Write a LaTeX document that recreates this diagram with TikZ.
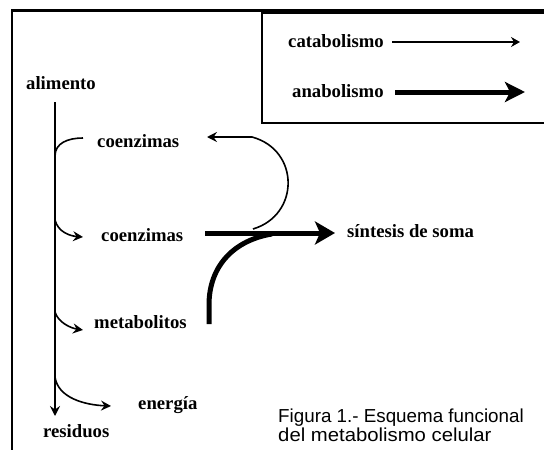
\documentclass[tikz,border=0pt]{standalone}
\usepackage{fontspec}
\setmainfont{Liberation Serif}
\newfontfamily\capfont{Liberation Sans}
\usetikzlibrary{arrows.meta}
\begin{document}
\begin{tikzpicture}[x=1pt,y=-1pt,
  lbl/.style={font=\bfseries\fontsize{18.7}{20}\selectfont, inner sep=0pt, anchor=base west},
  captext/.style={font=\capfont\fontsize{18.8}{20}\selectfont, inner sep=0pt, anchor=base west},
  thinarr/.style={line width=1.6pt, -{Stealth[length=10pt,width=10pt,inset=3.5pt]}},
  thinline/.style={line width=1.6pt},
  thickarr/.style={line width=5pt, -{Stealth[length=20pt,width=23pt,inset=5pt]}},
  thickline/.style={line width=5pt},
  frame/.style={line width=2.5pt},
  legbox/.style={line width=2pt},
]
\useasboundingbox (0,0) rectangle (544,450);
\fill[white] (0,0) rectangle (544,450);

% outer frame
\draw[frame] (12,460) -- (12,10.5) -- (560,10.5);
% legend box
\draw[legbox] (560,13) -- (262,13) -- (262,123) -- (560,123);

% legend
\node[lbl] (cata) at (288,47) {catabolismo};
\node[lbl] (ana) at (292,97) {anabolismo};
\coordinate (cataA) at (392,42);
\coordinate (cataB) at (520,42);
\coordinate (anaA) at (395,92);
\coordinate (anaB) at (525,92);
\draw[line width=1.6pt, -{Stealth[length=9pt,width=10pt,inset=3pt]}] (cataA) -- (cataB);
\draw[line width=5pt, -{Stealth[length=20pt,width=20pt,inset=5pt]}] (anaA) -- (anaB);

% labels
\node[lbl] (alim) at (26,89) {alimento};
\node[lbl] (coen1) at (97,147) {coenzimas};
\node[lbl] (coen2) at (101,241) {coenzimas};
\node[lbl] (meta) at (94,328) {metabolitos};
\node[lbl] (ener) at (138,409) {energía};
\node[lbl] (resi) at (43,437) {residuos};
\node[lbl] (sint) at (347,237) {síntesis de soma};

% main vertical line
\coordinate (vTop) at (55,102);
\coordinate (vBot) at (55,416);
\draw[thinarr] (vTop) -- (vBot);

% branches
\coordinate (b1s) at (55,156);
\coordinate (b1e) at (83,138);
\draw[thinline] (b1s) .. controls (55,143) and (68,138) .. (b1e);

\coordinate (b2s) at (55,220);
\coordinate (b2e) at (83,237);
\draw[thinarr] (b2s) .. controls (58,232) and (70,236) .. (b2e);

\coordinate (b3s) at (55,312);
\coordinate (b3e) at (83,330);
\draw[thinarr] (b3s) .. controls (58,322) and (70,328) .. (b3e);

\coordinate (b4s) at (55,377);
\coordinate (b4e) at (111,406);
\draw[thinarr] (b4s) .. controls (58,398) and (85,405) .. (b4e);

% return loop to coenzimas
\coordinate (loopS) at (253,229);
\coordinate (loopM) at (252,137);
\coordinate (loopE) at (207,137);
\draw[thinarr] (loopS) .. controls (300,215) and (300,150) .. (loopM) -- (loopE);

% thick synthesis arrow
\coordinate (synA) at (205,233);
\coordinate (synB) at (335,233);
\draw[thickarr] (synA) -- (synB);

% thick curve from metabolitos
\coordinate (tcA) at (209,324);
\coordinate (tcB) at (209,305);
\coordinate (tcC) at (272,234);
\draw[thickline] (tcA) -- (tcB) .. controls (209,265) and (235,240) .. (tcC);

% caption
\node[captext] (cap1) at (278,422) {Figura 1.- Esquema funcional};
\node[captext, xscale=1.08, transform shape] (cap2) at (278,441) {del metabolismo celular};
\end{tikzpicture}
\end{document}
